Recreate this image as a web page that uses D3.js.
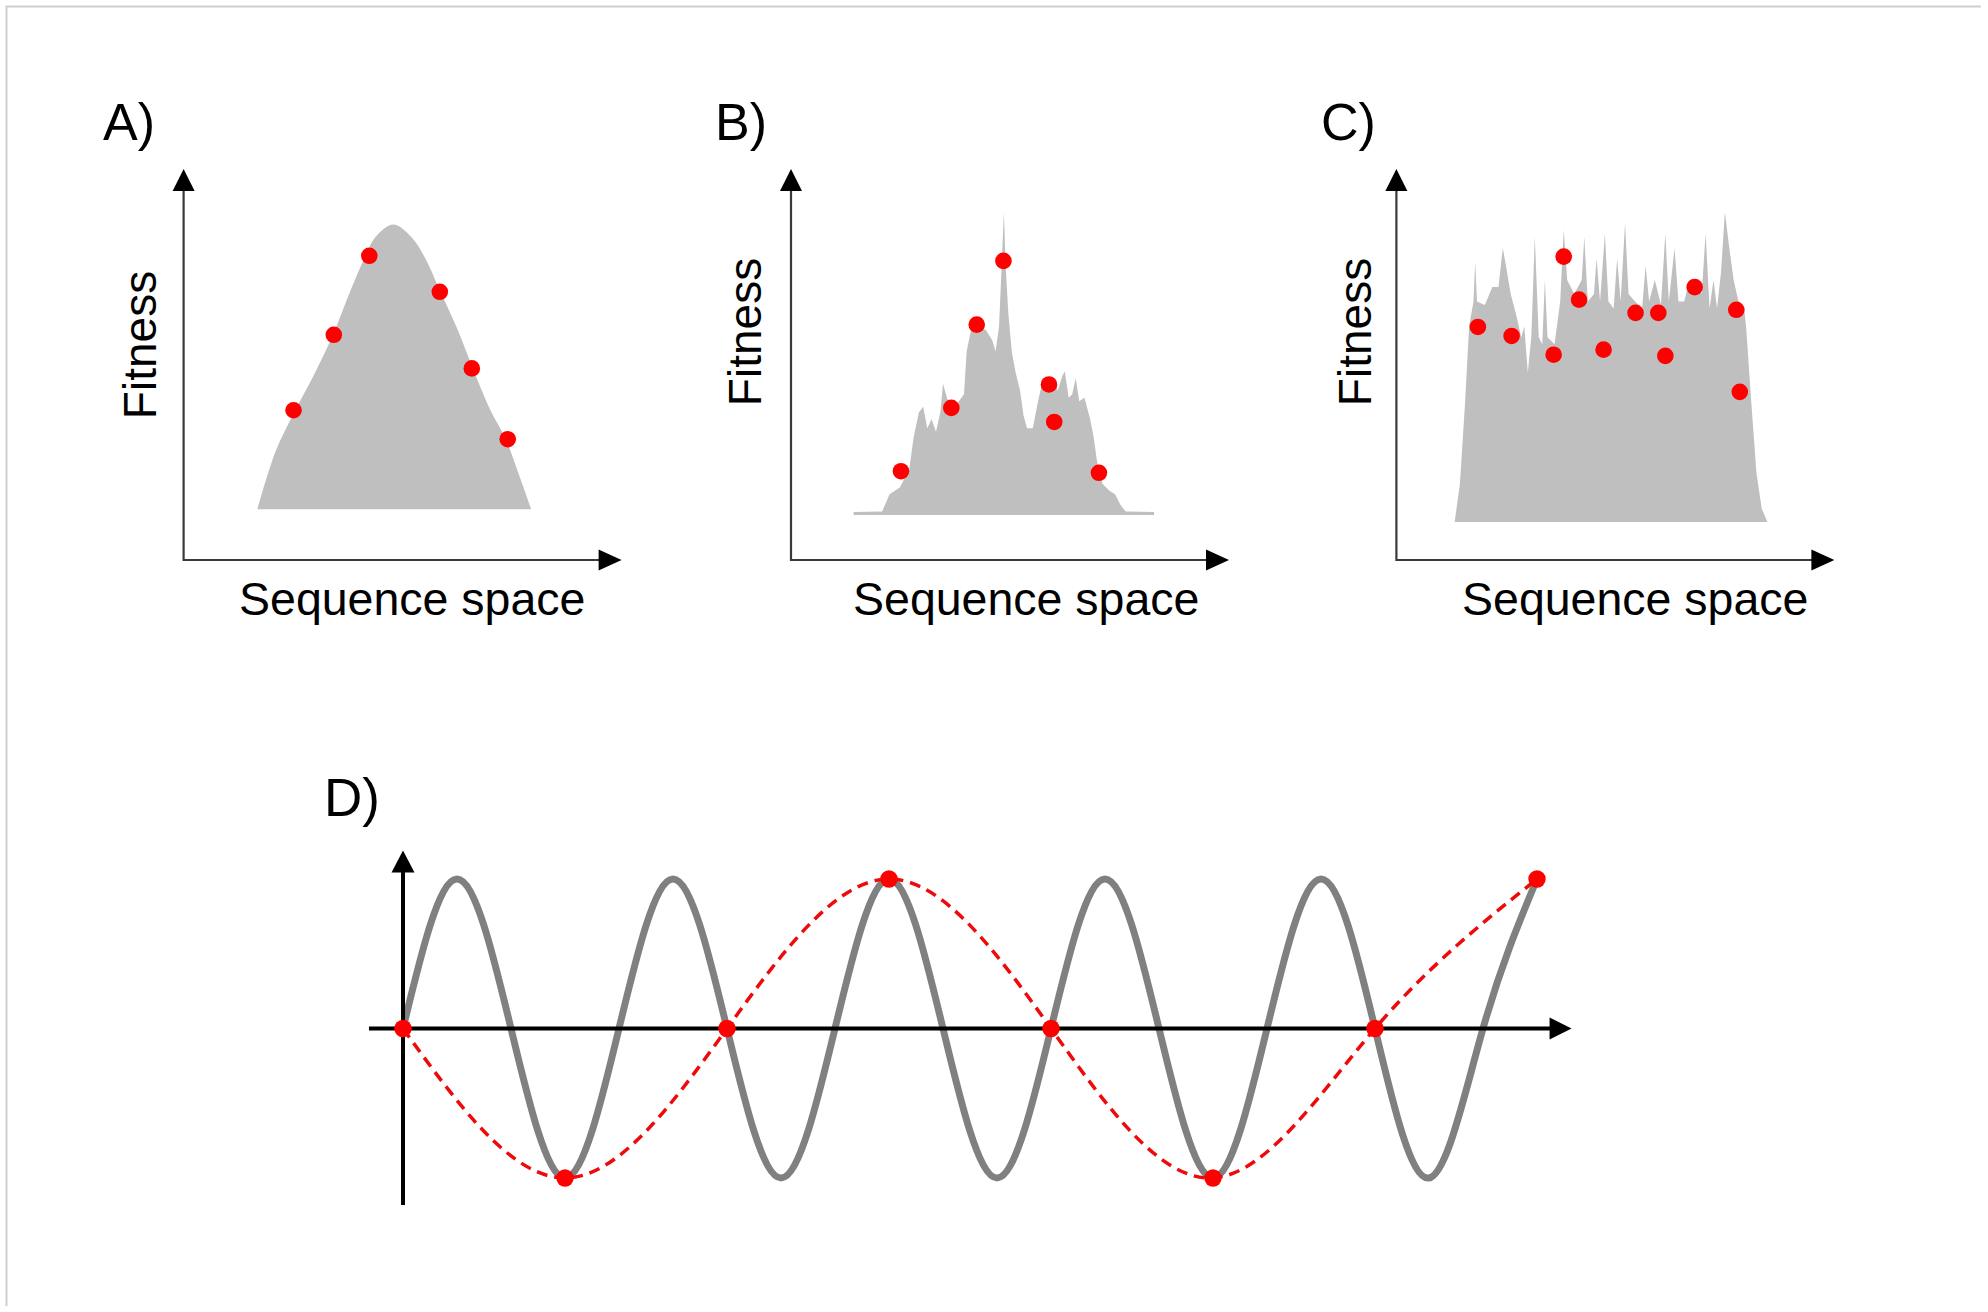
<!DOCTYPE html>
<html>
<head>
<meta charset="utf-8">
<script src="https://cdn.jsdelivr.net/npm/d3@7"></script>
<style>
  html, body { margin: 0; padding: 0; background: #ffffff; }
  svg { display: block; }
</style>
</head>
<body>
<svg id="chart" width="1988" height="1312"></svg>
<script>
// ---------------- DATA ----------------
const panelLabels = ["A)", "B)", "C)", "D)"];
const xAxisTitle = "Sequence space";
const yAxisTitle = "Fitness";

// Fitness landscape profiles: [sequence position, fitness] (0-100 units)
const landscapeA = [
  [16.9, 13.2], [21.0, 27.8], [25.5, 38.3], [30.0, 47.9], [34.1, 57.6], [38.1, 68.9],
  [41.4, 77.5], [43.8, 82.6], [47.9, 85.8], [52.0, 82.6], [55.2, 77.1], [58.5, 68.9],
  [62.6, 58.8], [65.8, 49.7], [69.9, 38.7], [73.5, 31.0], [76.4, 22.3], [79.3, 13.2]
];
const landscapeB = [
  [14.3, 12.3], [20.8, 12.4], [22.5, 16.8], [24.9, 18.6], [27.0, 23.2], [28.0, 31.4],
  [29.2, 37.8], [30.2, 39.2], [31.1, 33.7], [32.1, 36.0], [33.1, 32.8], [34.1, 37.8],
  [34.7, 45.1], [35.6, 41.5], [36.8, 38.3], [38.0, 40.1], [39.5, 42.4], [40.1, 53.3],
  [41.1, 58.8], [42.7, 59.7], [44.5, 58.8], [46.0, 56.1], [46.7, 53.3], [47.5, 59.7],
  [48.1, 75.3], [48.6, 89.0], [49.0, 75.3], [49.6, 63.4], [50.4, 53.3], [51.3, 47.9],
  [52.3, 43.3], [53.1, 36.9], [53.9, 33.7], [55.2, 33.7], [56.4, 40.6], [57.5, 46.0],
  [58.9, 46.9], [60.1, 46.0], [60.9, 43.3], [61.9, 46.9], [62.5, 48.3], [63.4, 41.5],
  [64.2, 42.4], [65.0, 46.5], [65.8, 40.6], [67.0, 41.5], [68.3, 36.0], [69.1, 31.4],
  [69.9, 25.0], [71.1, 19.5], [72.7, 17.7], [74.0, 16.8], [75.2, 14.1], [76.4, 12.4],
  [82.9, 12.3]
];
const landscapeC = [
  [13.3, 9.7], [14.5, 19.5], [15.7, 40.6], [16.6, 59.7], [17.6, 66.1], [18.0, 76.2],
  [18.4, 66.1], [20.2, 65.2], [21.9, 69.8], [23.3, 69.8], [24.3, 79.8], [25.0, 75.3],
  [26.1, 68.0], [27.4, 62.5], [28.5, 57.0], [29.2, 59.7], [30.0, 47.9], [30.8, 57.0],
  [31.6, 82.6], [32.5, 57.0], [33.3, 55.2], [33.9, 71.6], [34.5, 57.0], [36.1, 55.2],
  [37.4, 66.1], [38.2, 84.4], [39.0, 71.6], [40.6, 68.0], [42.3, 71.6], [42.9, 82.6],
  [43.7, 66.1], [45.1, 68.0], [45.7, 77.1], [46.5, 66.1], [47.6, 83.5], [48.4, 66.1],
  [49.6, 64.3], [50.4, 77.1], [51.2, 66.1], [52.2, 86.2], [53.0, 68.0], [54.5, 66.1],
  [56.1, 64.3], [56.9, 75.3], [57.7, 66.1], [59.0, 71.6], [60.4, 65.2], [61.4, 83.5],
  [62.2, 66.1], [63.5, 79.8], [64.4, 66.1], [65.7, 66.1], [66.9, 71.6], [68.5, 71.6],
  [69.7, 68.0], [70.6, 83.5], [71.5, 64.3], [72.4, 71.6], [73.2, 64.3], [74.1, 73.4],
  [75.0, 89.0], [75.9, 80.7], [77.0, 71.6], [78.1, 66.1], [79.4, 64.3], [79.9, 58.8],
  [81.0, 40.6], [82.2, 22.3], [83.4, 13.2], [84.7, 9.7]
];
const landscapeBase = [13.0, 11.5, 9.7];

// Sampled genotypes (red dots): [sequence position, fitness]
const samplesA = [[25.1, 38.3], [34.3, 57.6], [42.4, 77.8], [58.5, 68.6], [65.8, 49.0], [74.0, 30.9]];
const samplesB = [[25.1, 22.7], [36.6, 38.9], [42.4, 60.2], [48.5, 76.5], [58.9, 44.9], [60.1, 35.3], [70.3, 22.3]];
const samplesC = [
  [18.6, 59.6], [26.3, 57.3], [35.9, 52.5], [38.2, 77.6], [41.7, 66.6], [47.3, 53.8],
  [54.6, 63.2], [59.8, 63.2], [61.4, 52.2], [68.1, 69.8], [77.6, 64.0], [78.4, 43.0]
];

// Panel D: true landscape (zeros and extrema, in quarter-period steps)
const waveX = [0, 1, 2, 3, 4, 5, 6, 7, 8, 9, 10, 11, 12, 13, 14, 15, 16, 17, 18, 19, 20, 21];
const waveY = [0, 1, 0, -1, 0, 1, 0, -1, 0, 1, 0, -1, 0, 1, 0, -1, 0, 1, 0, -1, 0, 1];
// Panel D: sampled points (every third quarter period)
const sampleX = [0, 3, 6, 9, 12, 15, 18, 21];
const sampleY = [0, -1, 0, 1, 0, -1, 0, 1];

// ---------------- LAYOUT ----------------
const svg = d3.select("#chart");
const font = "'Liberation Sans', Arial, Helvetica, sans-serif";
const red = "#ff0000";
const fillGray = "#bfbfbf";

// page border (top + left)
svg.append("line").attr("x1", 6).attr("x2", 1981).attr("y1", 6.5).attr("y2", 6.5)
  .attr("stroke", "#cfcfcf").attr("stroke-width", 2);
svg.append("line").attr("x1", 6.5).attr("x2", 6.5).attr("y1", 6).attr("y2", 1306)
  .attr("stroke", "#cfcfcf").attr("stroke-width", 2);

const panels = [
  { label: panelLabels[0], data: landscapeA, base: landscapeBase[0], dots: samplesA, axisX: 183.6, curve: d3.curveCatmullRom,
    labelX: 103, fitX: 156, fitY: 345, seqX: 239 },
  { label: panelLabels[1], data: landscapeB, base: landscapeBase[1], dots: samplesB, axisX: 791, curve: d3.curveLinear,
    labelX: 715, fitX: 761, fitY: 332, seqX: 853 },
  { label: panelLabels[2], data: landscapeC, base: landscapeBase[2], dots: samplesC, axisX: 1396.4, curve: d3.curveLinear,
    labelX: 1321, fitX: 1371, fitY: 332, seqX: 1462 }
];

const axisLen = 438;
const axisY0 = 560, axisYTop = 169;

panels.forEach(p => {
  const g = svg.append("g");
  const x = d3.scaleLinear().domain([0, 100]).range([p.axisX, p.axisX + axisLen]);
  const y = d3.scaleLinear().domain([0, 100]).range([axisY0, axisYTop]);

  // landscape
  const area = d3.area().x(d => x(d[0])).y0(y(p.base)).y1(d => y(d[1])).curve(p.curve);
  g.append("path").datum(p.data).attr("d", area).attr("fill", fillGray);

  // axes
  g.append("line").attr("x1", x(0)).attr("x2", x(100) - 12).attr("y1", y(0)).attr("y2", y(0))
    .attr("stroke", "#3a3a3a").attr("stroke-width", 2.2);
  g.append("line").attr("x1", x(0)).attr("x2", x(0)).attr("y1", y(0) + 1.1).attr("y2", y(100) + 12)
    .attr("stroke", "#3a3a3a").attr("stroke-width", 2.2);
  g.append("path")
    .attr("d", `M${x(100)},${y(0)} L${x(100) - 23},${y(0) - 10.5} L${x(100) - 23},${y(0) + 10.5} Z`)
    .attr("fill", "#000");
  g.append("path")
    .attr("d", `M${x(0)},${y(100)} L${x(0) - 11},${y(100) + 22} L${x(0) + 11},${y(100) + 22} Z`)
    .attr("fill", "#000");

  // samples
  g.selectAll("circle").data(p.dots).join("circle")
    .attr("cx", d => x(d[0])).attr("cy", d => y(d[1])).attr("r", 8.3).attr("fill", red);

  // texts
  g.append("text").attr("x", p.labelX).attr("y", 140).text(p.label)
    .attr("font-family", font).attr("font-size", 52).attr("fill", "#000");
  g.append("text").attr("x", p.seqX).attr("y", 615).text(xAxisTitle)
    .attr("font-family", font).attr("font-size", 46.5).attr("fill", "#000");
  g.append("text").attr("transform", `translate(${p.fitX},${p.fitY}) rotate(-90)`)
    .attr("text-anchor", "middle").text(yAxisTitle)
    .attr("font-family", font).attr("font-size", 46).attr("fill", "#000");
});

// ---------------- PANEL D ----------------
(function () {
  const g = svg.append("g");
  const x = d3.scaleLinear().domain([0, 21]).range([403, 1537]);
  const y = d3.scaleLinear().domain([-1, 1]).range([1178, 879]);

  // true landscape
  const wave = waveX.map((v, i) => [v, waveY[i]]);
  g.append("path").datum(wave)
    .attr("d", d3.line().x(d => x(d[0])).y(d => y(d[1])).curve(d3.curveNatural))
    .attr("fill", "none").attr("stroke", "#808080").attr("stroke-width", 7);

  // axes
  g.append("line").attr("x1", x(-0.63)).attr("x2", x(21.3)).attr("y1", y(0)).attr("y2", y(0))
    .attr("stroke", "#000").attr("stroke-width", 4);
  g.append("line").attr("x1", x(0)).attr("x2", x(0)).attr("y1", y(-1.18)).attr("y2", y(1.1))
    .attr("stroke", "#000").attr("stroke-width", 4);
  const tipX = x(21.64), tipY = y(1.19);
  g.append("path").attr("d", `M${tipX},${y(0)} L${tipX - 22},${y(0) - 11} L${tipX - 22},${y(0) + 11} Z`).attr("fill", "#000");
  g.append("path").attr("d", `M${x(0)},${tipY} L${x(0) - 11.5},${tipY + 22} L${x(0) + 11.5},${tipY + 22} Z`).attr("fill", "#000");

  // sampled (aliased) curve
  const samples = sampleX.map((v, i) => [v, sampleY[i]]);
  g.append("path").datum(samples)
    .attr("d", d3.line().x(d => x(d[0])).y(d => y(d[1])).curve(d3.curveNatural))
    .attr("fill", "none").attr("stroke", "#ee0a0a").attr("stroke-width", 3.5)
    .attr("stroke-dasharray", "11,7");
  g.selectAll("circle").data(samples).join("circle")
    .attr("cx", d => x(d[0])).attr("cy", d => y(d[1])).attr("r", 8.7).attr("fill", red);

  g.append("text").attr("x", 324).attr("y", 816).text(panelLabels[3])
    .attr("font-family", font).attr("font-size", 53).attr("fill", "#000");
})();
</script>
</body>
</html>
